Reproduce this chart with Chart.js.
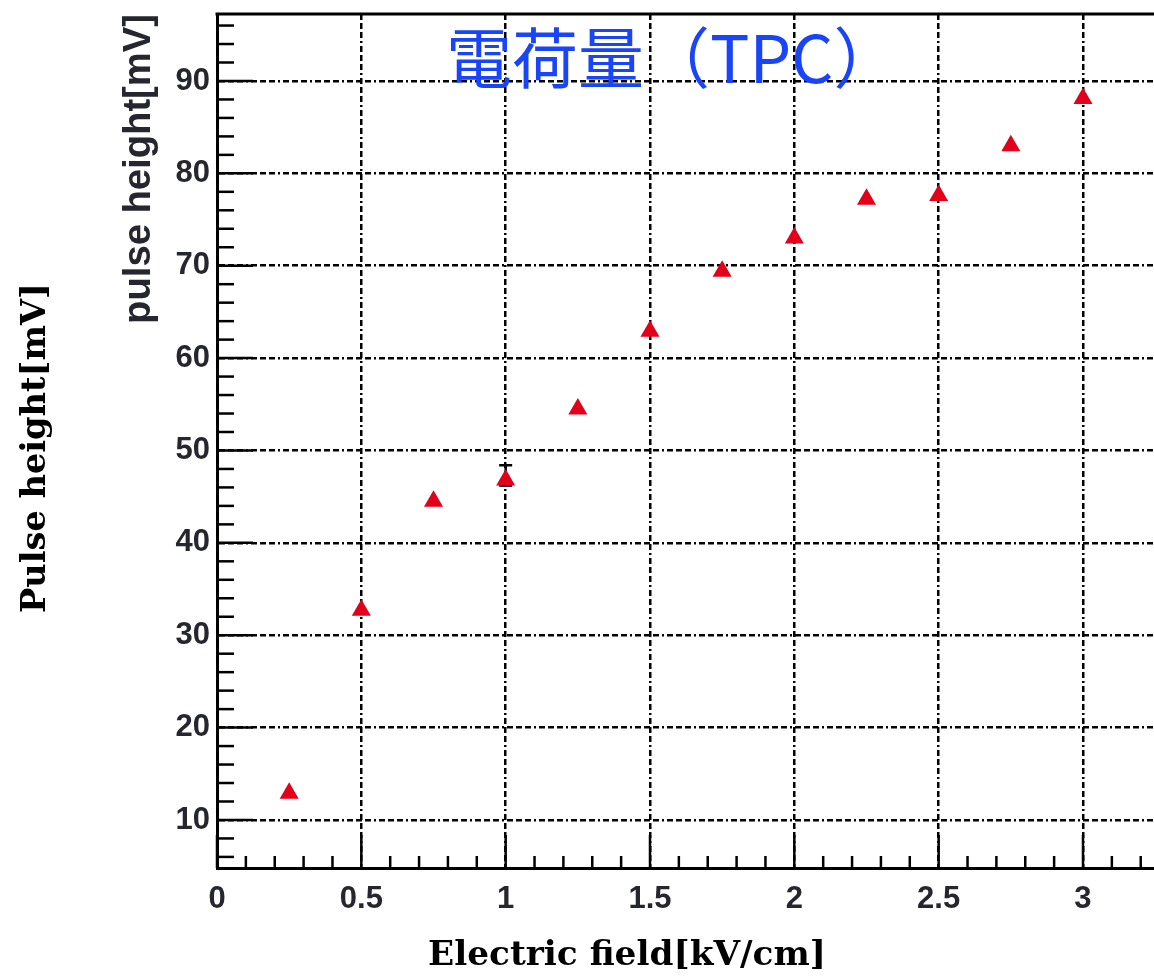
<!DOCTYPE html>
<html>
<head>
<meta charset="utf-8">
<title>Pulse height vs electric field</title>
<script src="https://cdn.jsdelivr.net/npm/chart.js@4/dist/chart.umd.min.js"></script>
<style>
  html, body { margin: 0; padding: 0; background: #fff; }
  #wrap { width: 1154px; height: 977px; position: relative; }
</style>
</head>
<body>
<div id="wrap"><canvas id="chart"></canvas></div>
<script>
const fieldValues = [0.25, 0.5, 0.75, 1.0, 1.25, 1.5, 1.75, 2.0, 2.25, 2.5, 2.75, 3.0];
const pulseHeights = [12.9, 32.7, 44.5, 46.8, 54.5, 62.9, 69.4, 73.0, 77.2, 77.6, 83.0, 88.1];
const errorsUp = [0, 0, 0, 1.6, 0, 0, 0, 0, 0, 0, 0, 0];
const errorsDown = [0, 0, 0, 0.6, 0, 0, 0, 0, 0, 0, 0, 0];
const xTicks = [0, 0.5, 1, 1.5, 2, 2.5, 3];
const xTickLabels = ["0", "0.5", "1", "1.5", "2", "2.5", "3"];
const yTicks = [10, 20, 30, 40, 50, 60, 70, 80, 90];
const yTickLabels = ["10", "20", "30", "40", "50", "60", "70", "80", "90"];

const titleText = "電荷量（TPC）";
const innerYTitle = "pulse height[mV]";
const outerYTitle = "Pulse height[mV]";
const outerXTitle = "Electric field[kV/cm]";

const tickColor = "#26262f";
const gridDash = [6, 3, 6, 3, 6, 3, 2, 3];

// font size that makes text a given width
const fitSize = (ctx, text, weight, family, width) => {
    ctx.font = `${weight} 100px ${family}`;
    return 100 * width / ctx.measureText(text).width;
};

const drawLine = (ctx, x1, y1, x2, y2) => {
    ctx.beginPath();
    ctx.moveTo(x1, y1);
    ctx.lineTo(x2, y2);
    ctx.stroke();
};

// ROOT-like frame: inward ticks, top border, error bars, titles
const rootFrame = {
    id: "rootFrame",
    beforeDatasetsDraw(chart) {
        const ctx = chart.ctx;
        const xs = chart.scales.x;
        const ys = chart.scales.y;
        ctx.save();
        ctx.strokeStyle = "#000";
        ctx.lineWidth = 2.5;
        fieldValues.forEach((fx, i) => {
            if (!errorsUp[i] && !errorsDown[i]) return;
            const px = xs.getPixelForValue(fx);
            const hi = ys.getPixelForValue(pulseHeights[i] + errorsUp[i]);
            const lo = ys.getPixelForValue(pulseHeights[i] - errorsDown[i]);
            drawLine(ctx, px, lo, px, hi);
            drawLine(ctx, px - 6.5, hi, px + 6.5, hi);
            drawLine(ctx, px - 6.5, lo, px + 6.5, lo);
        });
        ctx.restore();
    },
    afterDatasetsDraw(chart) {
        const ctx = chart.ctx;
        const { left, right, top, bottom } = chart.chartArea;
        const xs = chart.scales.x;
        const ys = chart.scales.y;
        ctx.save();
        ctx.strokeStyle = "#000";
        ctx.lineWidth = 2.5;
        for (let i = 0; i * 0.1 <= xs.max; i++) {
            const px = xs.getPixelForValue(i * 0.1);
            drawLine(ctx, px, bottom, px, bottom - (i % 5 === 0 ? 33 : 12));
        }
        for (let v = 6; v <= ys.max; v += 2) {
            const py = ys.getPixelForValue(v);
            drawLine(ctx, left, py, left + (v % 10 === 0 ? 36 : 17), py);
        }
        ctx.lineWidth = 3;
        drawLine(ctx, left - 1.5, top, right, top);
        ctx.restore();
    },
    afterDraw(chart) {
        const ctx = chart.ctx;
        ctx.save();
        ctx.textBaseline = "middle";

        // plot title
        ctx.fillStyle = "#1a44f8";
        ctx.textAlign = "left";
        ctx.font = "400 66px 'Noto Sans CJK JP'";
        ctx.fillText(titleText, 446, 58);

        ctx.textAlign = "center";
        // inner axis title, top aligned
        let size = fitSize(ctx, innerYTitle, "bold", "'Liberation Sans'", 310);
        ctx.fillStyle = tickColor;
        ctx.font = `bold ${size}px 'Liberation Sans'`;
        ctx.save();
        ctx.translate(139, 14);
        ctx.rotate(-Math.PI / 2);
        ctx.textAlign = "right";
        ctx.fillText(innerYTitle, 0, 0);
        ctx.restore();

        // outer titles
        ctx.fillStyle = "#000";
        size = fitSize(ctx, outerYTitle, "bold", "'DejaVu Serif'", 330);
        ctx.font = `bold ${size}px 'DejaVu Serif'`;
        ctx.save();
        ctx.translate(36, 448);
        ctx.rotate(-Math.PI / 2);
        ctx.fillText(outerYTitle, 0, 0);
        ctx.restore();

        size = fitSize(ctx, outerXTitle, "bold", "'DejaVu Serif'", 398);
        ctx.font = `bold ${size}px 'DejaVu Serif'`;
        ctx.fillText(outerXTitle, 627, 956);
        ctx.restore();
    },
};

const tickFont = { family: "'Liberation Sans', Arial, sans-serif", size: 31, weight: "bold" };

new Chart(document.getElementById("chart"), {
    type: "scatter",
    plugins: [rootFrame],
    data: {
        datasets: [{
            data: fieldValues.map((x, i) => ({ x: x, y: pulseHeights[i] })),
            pointStyle: "triangle",
            pointRadius: 11,
            pointHoverRadius: 11,
            backgroundColor: "#e3001b",
            borderColor: "#e3001b",
            borderWidth: 0,
        }],
    },
    options: {
        responsive: true,
        maintainAspectRatio: false,
        animation: false,
        layout: { autoPadding: false, padding: { top: 14, right: 0, left: 0, bottom: 0 } },
        plugins: {
            legend: { display: false },
            tooltip: { enabled: false },
        },
        scales: {
            x: {
                type: "linear",
                min: 0,
                max: 3.246,
                afterBuildTicks: (scale) => { scale.ticks = xTicks.map((v) => ({ value: v })); },
                afterFit: (scale) => {
                    scale.height = 109;
                    scale.paddingLeft = 0;
                    scale.paddingRight = 0;
                },
                grid: { color: "#000", lineWidth: 2.5, drawTicks: false },
                border: { display: true, color: "#000", width: 3, dash: gridDash },
                ticks: {
                    font: tickFont, color: tickColor, padding: 13, maxRotation: 0, autoSkip: false,
                    callback: (v, i) => xTickLabels[i],
                },
            },
            y: {
                type: "linear",
                min: 4.8,
                max: 97.25,
                afterBuildTicks: (scale) => { scale.ticks = yTicks.map((v) => ({ value: v })); },
                afterFit: (scale) => {
                    scale.width = 217;
                    scale.paddingTop = 0;
                    scale.paddingBottom = 0;
                },
                grid: { color: "#000", lineWidth: 2.5, drawTicks: false },
                border: { display: true, color: "#000", width: 3, dash: gridDash },
                ticks: {
                    font: tickFont, color: tickColor, padding: 7, autoSkip: false,
                    callback: (v, i) => yTickLabels[i],
                },
            },
        },
    },
});
</script>
</body>
</html>
